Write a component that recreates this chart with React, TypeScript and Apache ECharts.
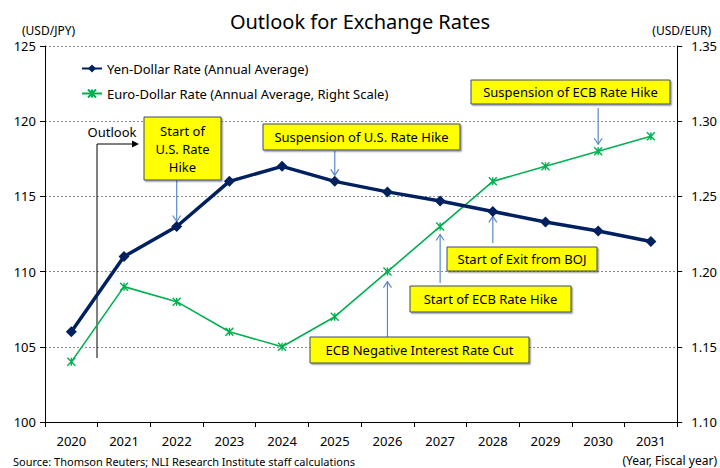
import React, { useEffect, useRef } from "react";
import * as echarts from "echarts";

const years = ["2020", "2021", "2022", "2023", "2024", "2025", "2026", "2027", "2028", "2029", "2030", "2031"];
const yenDollar = [106, 111, 113, 116, 117, 116, 115.3, 114.7, 114, 113.3, 112.7, 112];
const euroDollar = [1.14, 1.19, 1.18, 1.16, 1.15, 1.17, 1.2, 1.23, 1.26, 1.27, 1.28, 1.29];
const leftTicks = { min: 100, max: 125, interval: 5 };
const rightTicks = { min: 1.1, max: 1.35, interval: 0.05 };

const seriesNames = ["Yen-Dollar Rate (Annual Average)", "Euro-Dollar Rate (Annual Average, Right Scale)"];

// annotation: text lines, box [x, y, w, h], target series & index, direction of the arrow, gap to point, arrow start
const annotations = [
  { lines: ["Start of", "U.S. Rate", "Hike"], box: [144, 117, 77, 63], series: 0, idx: 2, dir: "down", from: 180, gap: 5 },
  { lines: ["Suspension of U.S. Rate Hike"], box: [263, 124, 197, 26], series: 0, idx: 5, dir: "down", from: 151, gap: 6 },
  { lines: ["Suspension of ECB Rate Hike"], box: [471, 80, 199, 24], series: 1, idx: 10, dir: "down", from: 108, gap: 7 },
  { lines: ["Start of Exit from BOJ"], box: [447, 247, 150, 24], series: 0, idx: 8, dir: "up", from: 243, gap: 5 },
  { lines: ["Start of ECB Rate Hike"], box: [410, 286, 161, 26], series: 1, idx: 7, dir: "up", from: 283, gap: 8 },
  { lines: ["ECB Negative Interest Rate Cut"], box: [310, 337, 219, 26], series: 1, idx: 6, dir: "up", from: 337, gap: 10 },
];

const FONT = "'Noto Sans', 'Open Sans', sans-serif";
const asterisk = "path://M0 0 L10 10 M10 0 L0 10 M5 0 L5 10";

export default function App() {
  const ref = useRef<HTMLDivElement>(null);
  useEffect(() => {
    if (!ref.current) return;
    const chart = echarts.init(ref.current, null, { renderer: "svg" });
    chart.setOption({
      animation: false,
      backgroundColor: "#fff",
      textStyle: { fontFamily: FONT },
      title: {
        text: "Outlook for Exchange Rates",
        left: "center",
        top: 6,
        textStyle: { fontFamily: FONT, fontSize: 20, fontWeight: "normal", color: "#000" },
      },
      legend: {
        orient: "vertical",
        left: 76,
        top: 57,
        itemGap: 12,
        itemWidth: 20,
        itemHeight: 10,
        textStyle: { fontFamily: FONT, fontSize: 13, color: "#000" },
        data: seriesNames,
      },
      grid: { left: 45, right: 42, top: 46, bottom: 46 },
      xAxis: {
        type: "category",
        data: years,
        boundaryGap: true,
        axisLine: { lineStyle: { color: "#000", width: 1 } },
        axisTick: { show: true, length: 5, alignWithLabel: false, lineStyle: { color: "#000" } },
        axisLabel: { color: "#000", fontSize: 13, margin: 12, fontFamily: FONT },
      },
      yAxis: [
        {
          type: "value",
          ...leftTicks,
          axisLine: { show: true, lineStyle: { color: "#000" } },
          axisTick: { show: true, length: 5, lineStyle: { color: "#000" } },
          axisLabel: { color: "#000", fontSize: 13, margin: 9, fontFamily: FONT },
          splitLine: { show: true, lineStyle: { color: "#8c8c8c", type: [2, 2], width: 1 } },
        },
        {
          type: "value",
          ...rightTicks,
          position: "right",
          axisLine: { show: true, lineStyle: { color: "#000" } },
          axisTick: { show: true, length: 5, lineStyle: { color: "#000" } },
          axisLabel: { color: "#000", fontSize: 13, margin: 14, fontFamily: FONT, formatter: (v: number) => v.toFixed(2) },
          splitLine: { show: false },
        },
      ],
      series: [
        {
          name: seriesNames[0],
          type: "line",
          data: yenDollar,
          yAxisIndex: 0,
          symbol: "diamond",
          symbolSize: 11,
          lineStyle: { color: "#002060", width: 3.5 },
          itemStyle: { color: "#002060" },
          z: 3,
        },
        {
          name: seriesNames[1],
          type: "line",
          data: euroDollar,
          yAxisIndex: 1,
          symbol: asterisk,
          symbolSize: 8,
          lineStyle: { color: "#00B050", width: 1.6 },
          itemStyle: { color: "rgba(0,0,0,0)", borderColor: "#00B050", borderWidth: 1.4 },
          z: 2,
        },
      ],
    });

    const graphics: any[] = [];
    graphics.push(
      { type: "text", style: { text: "(USD/JPY)", x: 22, y: 30, font: `12px ${FONT}`, fill: "#000", align: "left", verticalAlign: "middle", textAlign: "left", textVerticalAlign: "middle" } },
      { type: "text", style: { text: "(USD/EUR)", x: 711, y: 30, font: `12px ${FONT}`, fill: "#000", align: "right", verticalAlign: "middle", textAlign: "right", textVerticalAlign: "middle" } },
      { type: "text", style: { text: "(Year, Fiscal year)", x: 717, y: 460, font: `12px ${FONT}`, fill: "#000", align: "right", verticalAlign: "middle", textAlign: "right", textVerticalAlign: "middle" } },
      { type: "text", style: { text: "Source: Thomson Reuters; NLI Research Institute staff calculations", x: 13, y: 461, font: `11px ${FONT}`, fill: "#000", align: "left", verticalAlign: "middle", textAlign: "left", textVerticalAlign: "middle" } },
      { type: "text", style: { text: "Outlook", x: 112, y: 132, font: `13px ${FONT}`, fill: "#000", align: "center", verticalAlign: "middle", textAlign: "center", textVerticalAlign: "middle" } },
      { type: "polyline", shape: { points: [[97, 358], [97, 144], [133, 144]] }, style: { stroke: "#000", lineWidth: 1, fill: "none" } },
      { type: "polygon", shape: { points: [[132, 140.5], [139, 144], [132, 147.5]] }, style: { fill: "#000" } }
    );

    annotations.forEach((a) => {
      const data = a.series === 0 ? yenDollar : euroDollar;
      const p = chart.convertToPixel({ seriesIndex: a.series }, [a.idx, data[a.idx]]) as number[];
      const x = p[0];
      const tip = a.dir === "down" ? p[1] - a.gap : p[1] + a.gap;
      const blue = "#5B87C8";
      graphics.push({ type: "line", shape: { x1: x, y1: a.from, x2: x, y2: tip }, style: { stroke: blue, lineWidth: 1.2 } });
      const h = a.dir === "down" ? -6 : 6;
      graphics.push({ type: "polyline", shape: { points: [[x - 4, tip + h], [x, tip], [x + 4, tip + h]] }, style: { stroke: blue, lineWidth: 1.2, fill: "none" } });
      const [bx, by, bw, bh] = a.box;
      graphics.push({
        type: "rect",
        shape: { x: bx, y: by, width: bw, height: bh },
        style: { fill: "#FFFF00", stroke: "#3A4A6A", lineWidth: 1, shadowColor: "rgba(0,0,0,0.35)", shadowOffsetX: 1.5, shadowOffsetY: 1.5, shadowBlur: 1 },
        z: 10,
      });
      const lh = 18;
      const startY = by + bh / 2 - ((a.lines.length - 1) * lh) / 2;
      a.lines.forEach((t, i) => {
        graphics.push({
          type: "text",
          style: { text: t, x: bx + bw / 2, y: startY + i * lh, font: `13px ${FONT}`, fill: "#000", align: "center", verticalAlign: "middle", textAlign: "center", textVerticalAlign: "middle" },
          z: 11,
        });
      });
    });

    chart.setOption({ graphic: graphics });
    return () => chart.dispose();
  }, []);
  return <div ref={ref} style={{ width: 720, height: 468, position: "absolute", left: 0, top: 0 }} />;
}
